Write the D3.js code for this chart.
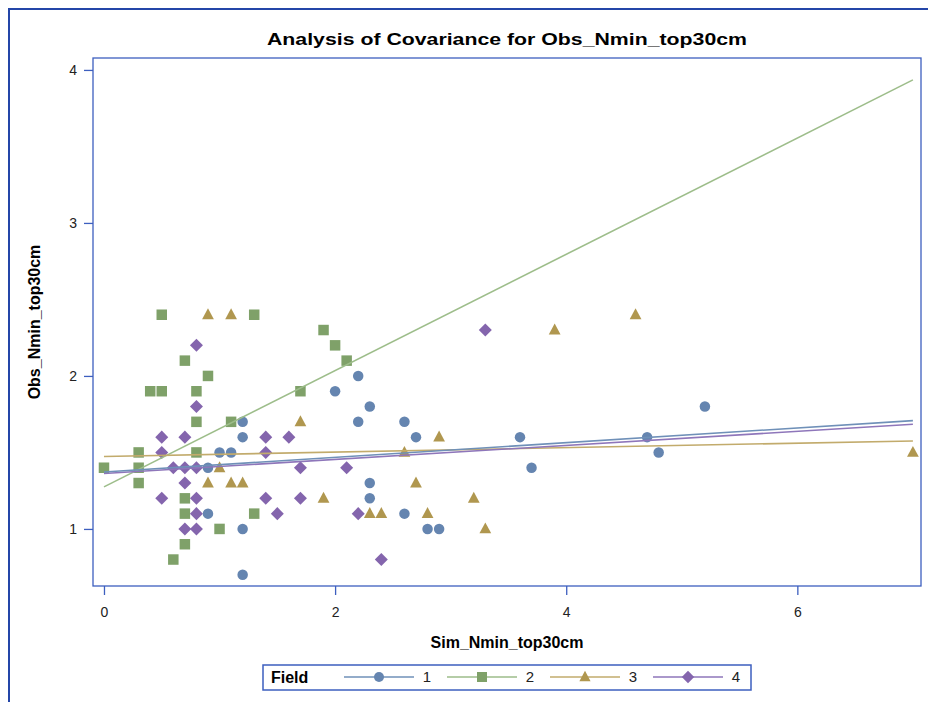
<!DOCTYPE html>
<html>
<head>
<meta charset="utf-8">
<script src="https://cdn.jsdelivr.net/npm/d3@7"></script>
<style>
  html, body { margin: 0; padding: 0; background: #ffffff; }
  svg { display: block; font-family: "Liberation Sans", Arial, sans-serif; }
</style>
</head>
<body>
<svg id="chart" width="928" height="702"></svg>
<script>
// Observations per field (Sim_Nmin_top30cm, Obs_Nmin_top30cm)
const field1X = [1.2, 1.2, 1.0, 1.1, 0.9, 0.9, 1.2, 1.2, 2.2, 2.0, 2.3, 2.2, 2.6, 2.7, 2.3, 2.3, 2.6, 2.8, 2.9, 3.6, 3.7, 5.2, 4.7, 4.8];
const field1Y = [1.7, 1.6, 1.5, 1.5, 1.4, 1.1, 1.0, 0.7, 2.0, 1.9, 1.8, 1.7, 1.7, 1.6, 1.3, 1.2, 1.1, 1.0, 1.0, 1.6, 1.4, 1.8, 1.6, 1.5];

const field2X = [0.5, 1.3, 0.7, 0.9, 0.4, 0.5, 0.8, 0.8, 1.1, 0.3, 0.8, 0.0, 0.3, 0.3, 0.7, 0.7, 1.3, 1.0, 0.7, 0.6, 1.9, 2.0, 2.1, 1.7];
const field2Y = [2.4, 2.4, 2.1, 2.0, 1.9, 1.9, 1.9, 1.7, 1.7, 1.5, 1.5, 1.4, 1.4, 1.3, 1.2, 1.1, 1.1, 1.0, 0.9, 0.8, 2.3, 2.2, 2.1, 1.9];

const field3X = [0.9, 1.1, 1.0, 0.9, 1.1, 1.2, 1.7, 2.9, 2.6, 2.7, 1.9, 3.2, 2.3, 2.4, 2.8, 3.3, 3.9, 4.6, 7.0];
const field3Y = [2.4, 2.4, 1.4, 1.3, 1.3, 1.3, 1.7, 1.6, 1.5, 1.3, 1.2, 1.2, 1.1, 1.1, 1.1, 1.0, 2.3, 2.4, 1.5];

const field4X = [0.8, 0.8, 0.5, 0.7, 0.5, 0.6, 0.7, 0.8, 0.7, 0.5, 0.8, 0.8, 0.7, 0.8, 1.4, 1.6, 1.4, 1.7, 2.1, 1.4, 1.7, 1.5, 2.2, 2.4, 3.3];
const field4Y = [2.2, 1.8, 1.6, 1.6, 1.5, 1.4, 1.4, 1.4, 1.3, 1.2, 1.2, 1.1, 1.0, 1.0, 1.6, 1.6, 1.5, 1.4, 1.4, 1.2, 1.2, 1.1, 1.1, 0.8, 2.3];

// Fitted lines per field (intercept, slope), drawn over the Sim range
const fieldNames = ["1", "2", "3", "4"];
const fitIntercept = [1.372, 1.275, 1.473, 1.362];
const fitSlope = [0.048, 0.380, 0.0146, 0.0460];
const fitRange = [0, 7];

const xTicks = [0, 2, 4, 6];
const yTicks = [1, 2, 3, 4];

const markerColors = ["#6585b0", "#7fa169", "#b0974f", "#8465ad"];
const lineColors = ["#6f90b8", "#9dbd8a", "#c2ab6c", "#8e76ba"];
const axisColor = "#3d5fbf";

const fields = [
  { x: field1X, y: field1Y },
  { x: field2X, y: field2Y },
  { x: field3X, y: field3Y },
  { x: field4X, y: field4Y }
];

const svg = d3.select("#chart");

// Outer frame
svg.append("rect")
  .attr("x", 9).attr("y", 9).attr("width", 940).attr("height", 720)
  .attr("fill", "none").attr("stroke", "#2446a8").attr("stroke-width", 2);

const plot = { left: 93, top: 58, right: 921, bottom: 586 };

const x = d3.scaleLinear().domain([-0.095, 7.07]).range([plot.left, plot.right]);
const y = d3.scaleLinear().domain([0.627, 4.078]).range([plot.bottom, plot.top]);

// Title
svg.append("text")
  .attr("x", (plot.left + plot.right) / 2).attr("y", 45)
  .attr("text-anchor", "middle")
  .style("font-weight", "bold").style("font-size", "17px")
  .attr("textLength", 480).attr("lengthAdjust", "spacingAndGlyphs")
  .text("Analysis of Covariance for Obs_Nmin_top30cm");

// Plot frame
svg.append("rect")
  .attr("x", plot.left).attr("y", plot.top)
  .attr("width", plot.right - plot.left).attr("height", plot.bottom - plot.top)
  .attr("fill", "none").attr("stroke", axisColor).attr("stroke-width", 1.3);

// Axes
const xAxis = d3.axisBottom(x).tickValues(xTicks).tickFormat(d3.format("d")).tickSize(9).tickSizeOuter(0);
const gx = svg.append("g").attr("transform", `translate(0,${plot.bottom})`).call(xAxis);
gx.select(".domain").remove();
gx.selectAll(".tick line").attr("stroke", axisColor).attr("stroke-width", 1.3);
gx.selectAll(".tick text").attr("fill", "#222").style("font-size", "14px")
  .style("font-family", "'Liberation Sans', Arial, sans-serif")
  .attr("y", 31).attr("dy", 0);

const yAxis = d3.axisLeft(y).tickValues(yTicks).tickFormat(d3.format("d")).tickSize(9).tickSizeOuter(0);
const gy = svg.append("g").attr("transform", `translate(${plot.left},0)`).call(yAxis);
gy.select(".domain").remove();
gy.selectAll(".tick line").attr("stroke", axisColor).attr("stroke-width", 1.3);
gy.selectAll(".tick text").attr("fill", "#222").style("font-size", "14px")
  .style("font-family", "'Liberation Sans', Arial, sans-serif").attr("x", -16);

// Axis labels
svg.append("text")
  .attr("x", (plot.left + plot.right) / 2).attr("y", 648)
  .attr("text-anchor", "middle")
  .style("font-weight", "bold").style("font-size", "16px")
  .text("Sim_Nmin_top30cm");

svg.append("text")
  .attr("transform", `translate(40,${(plot.top + plot.bottom) / 2}) rotate(-90)`)
  .attr("text-anchor", "middle")
  .style("font-weight", "bold").style("font-size", "16px")
  .text("Obs_Nmin_top30cm");

// Marker shapes
function markerPath(i, s) {
  if (i === 0) {
    const r = s * 0.5;
    return `M${r},0A${r},${r} 0 1,1 ${-r},0A${r},${r} 0 1,1 ${r},0Z`;
  }
  if (i === 1) {
    const h = s * 0.5;
    return `M${-h},${-h}H${h}V${h}H${-h}Z`;
  }
  if (i === 2) {
    const w = s * 0.56, t = s * 0.62, b = s * 0.42;
    return `M0,${-t}L${w},${b}L${-w},${b}Z`;
  }
  const d = s * 0.62;
  return `M0,${-d}L${d},0L0,${d}L${-d},0Z`;
}

svg.append("clipPath").attr("id", "plotClip")
  .append("rect").attr("x", plot.left).attr("y", plot.top)
  .attr("width", plot.right - plot.left).attr("height", plot.bottom - plot.top);

const gData = svg.append("g").attr("clip-path", "url(#plotClip)");

// Points: draw fields in order
fields.forEach((f, i) => {
  gData.append("g").selectAll("path")
    .data(d3.range(f.x.length))
    .join("path")
    .attr("transform", k => `translate(${x(f.x[k])},${y(f.y[k])})`)
    .attr("d", markerPath(i, 10.5))
    .attr("fill", markerColors[i]);
});

// Fit lines drawn above points
const lineGen = d3.line().x(d => x(d[0])).y(d => y(d[1]));
[1, 2, 3, 0].forEach(i => {
  const pts = fitRange.map(v => [v, fitIntercept[i] + fitSlope[i] * v]);
  gData.append("path")
    .attr("d", lineGen(pts))
    .attr("fill", "none")
    .attr("stroke", lineColors[i])
    .attr("stroke-width", 1.6);
});

// Legend
const legend = svg.append("g");
legend.append("rect")
  .attr("x", 263).attr("y", 665).attr("width", 488).attr("height", 25)
  .attr("fill", "#fff").attr("stroke", axisColor).attr("stroke-width", 1.5);
legend.append("text")
  .attr("x", 271).attr("y", 683)
  .style("font-weight", "bold").style("font-size", "16px")
  .text("Field");

const legendStart = [344, 447, 550, 653];
fieldNames.forEach((name, i) => {
  const x0 = legendStart[i];
  legend.append("line")
    .attr("x1", x0).attr("x2", x0 + 70).attr("y1", 677).attr("y2", 677)
    .attr("stroke", lineColors[i]).attr("stroke-width", 1.4);
  legend.append("path")
    .attr("transform", `translate(${x0 + 35},677)`)
    .attr("d", markerPath(i, 10))
    .attr("fill", markerColors[i]);
  legend.append("text")
    .attr("x", x0 + 83).attr("y", 682)
    .attr("text-anchor", "middle")
    .style("font-size", "15px").attr("fill", "#222")
    .text(name);
});
</script>
</body>
</html>
